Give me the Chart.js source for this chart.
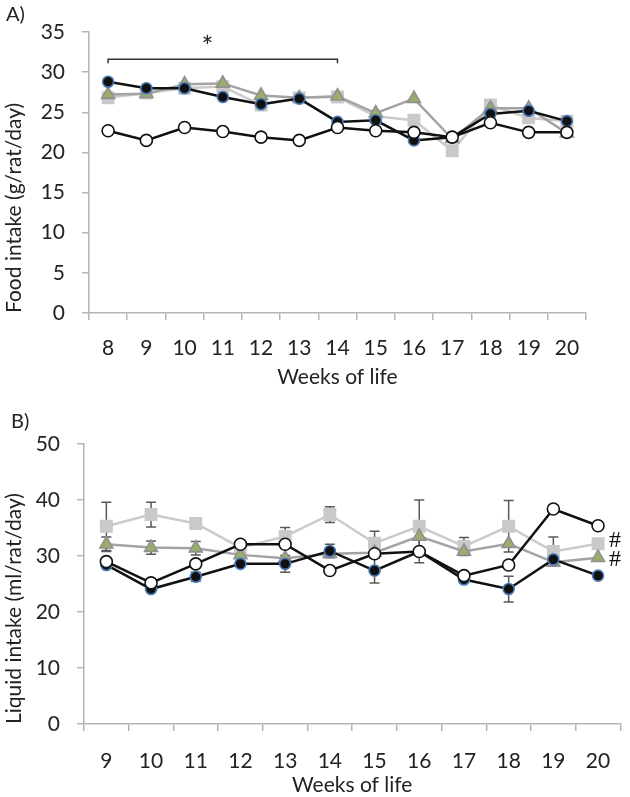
<!DOCTYPE html>
<html>
<head>
<meta charset="utf-8">
<script src="https://cdn.jsdelivr.net/npm/chart.js@4.4.1/dist/chart.umd.min.js"></script>
<style>
  body { margin: 0; background: #fff; }
  #wrap { position: relative; width: 630px; height: 797px; overflow: hidden; font-family: Lato, sans-serif; }
  canvas { position: absolute; left: 0; }
  .panel { position: absolute; font-size: 20px; line-height: 22px; color: #222; }
</style>
</head>
<body>
<div id="wrap">
  <canvas id="chart-a" width="630" height="400" style="top:0"></canvas>
  <canvas id="chart-b" width="630" height="398" style="top:400px"></canvas>
  <div class="panel" style="left:6px; top:2px">A)</div>
  <div class="panel" style="left:11px; top:409px">B)</div>
</div>
<script>
// panel A - food intake
const weeksA = ['8', '9', '10', '11', '12', '13', '14', '15', '16', '17', '18', '19', '20'];
const whiteA  = [22.7, 21.5, 23.1, 22.6, 21.9, 21.5, 23.1, 22.7, 22.5, 21.9, 23.7, 22.5, 22.5];
const blackA  = [28.8, 28.0, 28.0, 26.9, 26.0, 26.7, 23.8, 24.0, 21.5, 21.9, 24.8, 25.2, 23.9];
const triA    = [27.2, 27.3, 28.5, 28.6, 27.1, 26.8, 27.0, 24.9, 26.7, 21.7, 25.5, 25.5, 22.4];
const squareA = [26.8, 27.4, 28.0, 28.2, 25.9, 26.8, 26.9, 24.5, 24.0, 20.2, 25.9, 24.3, 23.9];

// significance bracket over weeks 8-14
const bracketFrom = 0;
const bracketTo = 6;
const bracketValue = 31.6;
const bracketTip = 0.5;
const starIndex = 2.6;
const starValue = 33.0;

// panel B - liquid intake
const weeksB = ['9', '10', '11', '12', '13', '14', '15', '16', '17', '18', '19', '20'];
const whiteB     = [29.0, 25.2, 28.6, 32.1, 32.1, 27.4, 30.4, 30.8, 26.5, 28.4, 38.4, 35.4];
const blackB     = [28.4, 24.1, 26.3, 28.6, 28.6, 30.9, 27.4, 30.8, 25.8, 24.1, 29.4, 26.5];
const blackErrB  = [0.5, 0.5, 0.8, 0.5, 1.5, 1.2, 2.2, 2.0, 0.5, 2.3, 0.5, 0.5];
const triB       = [32.1, 31.5, 31.4, 30.2, 29.6, 30.4, 30.6, 33.5, 30.8, 32.2, 28.9, 29.7];
const triErrB    = [1.3, 1.2, 1.2, 0, 0, 0, 0, 0, 0, 0, 0, 0];
const squareB    = [35.3, 37.4, 35.8, 31.5, 33.5, 37.4, 32.3, 35.3, 31.7, 35.3, 30.8, 32.2];
const squareErrB = [4.3, 2.2, 0.5, 0.5, 1.6, 1.4, 2.1, 4.7, 1.6, 4.6, 2.6, 0.5];
const hashValues = [32.7, 29.4];

const FONT = 'Lato, sans-serif';
const TEXT = '#222';
const AXIS_GREY = '#b5b5b5';

function seriesSet(white, black, tri, square)
{
    const base = { fill: false, tension: 0, borderWidth: 2.5, pointBorderWidth: 1.6 };
    return [
        Object.assign({}, base, {
            label: 'white', data: white, order: 0,
            borderColor: '#111', pointStyle: 'circle', pointRadius: 6,
            pointBackgroundColor: '#fff', pointBorderColor: '#111'
        }),
        Object.assign({}, base, {
            label: 'black', data: black, order: 1,
            borderColor: '#111', pointStyle: 'circle', pointRadius: 5.5,
            pointBackgroundColor: '#111', pointBorderColor: '#4a7ab8'
        }),
        Object.assign({}, base, {
            label: 'triangle', data: tri, order: 2,
            borderColor: '#a3a3a3', pointStyle: 'triangle', pointRadius: 7.5,
            pointBackgroundColor: '#9aae6b', pointBorderColor: '#909090'
        }),
        Object.assign({}, base, {
            label: 'square', data: square, order: 3,
            borderColor: '#cbcbcb', pointStyle: 'rect', pointRadius: 8,
            pointBackgroundColor: '#c9c9c9', pointBorderColor: '#c9c9c9'
        })
    ];
}

function makeScales(cfg)
{
    const grid = {
        drawOnChartArea: false, drawTicks: true, tickLength: 7,
        color: AXIS_GREY, lineWidth: 1.5
    };
    return {
        x: {
            type: 'category', offset: true,
            grid: Object.assign({ offset: true }, grid),
            border: { color: AXIS_GREY, width: 1.5 },
            ticks: {
                color: TEXT, font: { family: FONT, size: cfg.fontSize },
                padding: cfg.xPad, maxRotation: 0, autoSkip: false
            },
            title: {
                display: true, text: 'Weeks of life', color: TEXT,
                font: { family: FONT, size: cfg.fontSize },
                padding: { top: 0, bottom: cfg.xTitlePad }
            },
            afterFit: (s) => { s.height = cfg.xHeight; }
        },
        y: {
            min: 0, max: cfg.max,
            grid: grid,
            border: { color: AXIS_GREY, width: 1.5 },
            ticks: {
                stepSize: cfg.step, color: TEXT,
                font: { family: FONT, size: cfg.fontSize }, padding: cfg.yPad
            },
            title: {
                display: true, text: cfg.yTitle, color: TEXT, align: 'start',
                font: { family: FONT, size: cfg.fontSize },
                padding: { top: 2, bottom: 0 }
            },
            afterFit: (s) => { s.width = cfg.yWidth; }
        }
    };
}

const bracketPlugin = {
    id: 'bracket',
    afterDatasetsDraw(chart)
    {
        const { ctx, scales: { x, y } } = chart;
        const x0 = x.getPixelForValue(bracketFrom);
        const x1 = x.getPixelForValue(bracketTo);
        const yb = y.getPixelForValue(bracketValue);
        const yt = y.getPixelForValue(bracketValue - bracketTip);
        ctx.save();
        ctx.strokeStyle = '#333';
        ctx.lineWidth = 1.5;
        ctx.beginPath();
        ctx.moveTo(x0, yt);
        ctx.lineTo(x0, yb);
        ctx.lineTo(x1, yb);
        ctx.lineTo(x1, yt);
        ctx.stroke();
        ctx.fillStyle = '#222';
        ctx.font = '28px ' + FONT;
        ctx.textAlign = 'center';
        ctx.textBaseline = 'middle';
        ctx.fillText('*', x.getPixelForValue(starIndex), y.getPixelForValue(starValue));
        ctx.restore();
    }
};

const errorBarPlugin = {
    id: 'errorBars',
    beforeDatasetsDraw(chart)
    {
        const { ctx, scales: { x, y } } = chart;
        const sets = [[squareB, squareErrB], [triB, triErrB], [blackB, blackErrB]];
        ctx.save();
        ctx.strokeStyle = '#595959';
        ctx.lineWidth = 1.5;
        sets.forEach(([vals, errs]) => {
            vals.forEach((v, i) => {
                if (!errs[i]) return;
                const px = x.getPixelForValue(i);
                const top = y.getPixelForValue(v + errs[i]);
                const bot = y.getPixelForValue(v - errs[i]);
                ctx.beginPath();
                ctx.moveTo(px, top);
                ctx.lineTo(px, bot);
                ctx.moveTo(px - 5, top);
                ctx.lineTo(px + 5, top);
                ctx.moveTo(px - 5, bot);
                ctx.lineTo(px + 5, bot);
                ctx.stroke();
            });
        });
        ctx.restore();
    },
    afterDatasetsDraw(chart)
    {
        const { ctx, scales: { x, y } } = chart;
        const px = x.getPixelForValue(weeksB.length - 1) + 11;
        ctx.save();
        ctx.fillStyle = '#111';
        ctx.font = '24px "Liberation Serif", serif';
        ctx.textAlign = 'left';
        ctx.textBaseline = 'middle';
        hashValues.forEach((v) => ctx.fillText('#', px, y.getPixelForValue(v)));
        ctx.restore();
    }
};

const common = {
    responsive: false,
    animation: false,
    plugins: { legend: { display: false }, tooltip: { enabled: false } }
};

new Chart(document.getElementById('chart-a'), {
    type: 'line',
    data: { labels: weeksA, datasets: seriesSet(whiteA, blackA, triA, squareA) },
    options: Object.assign({}, common, {
        layout: { padding: { left: 0, right: 44, top: 32, bottom: 0 } },
        scales: makeScales({
            max: 35, step: 5, fontSize: 21, yTitle: 'Food intake (g/rat/day)',
            yWidth: 89, yPad: 17, xHeight: 87, xPad: 16, xTitlePad: 10
        })
    }),
    plugins: [bracketPlugin]
});

new Chart(document.getElementById('chart-b'), {
    type: 'line',
    data: { labels: weeksB, datasets: seriesSet(whiteB, blackB, triB, squareB) },
    options: Object.assign({}, common, {
        layout: { padding: { left: 0, right: 3, top: 44, bottom: 0 } },
        scales: makeScales({
            max: 50, step: 10, fontSize: 21, yTitle: 'Liquid intake (ml/rat/day)',
            yWidth: 84, yPad: 17, xHeight: 74, xPad: 18, xTitlePad: 0
        })
    }),
    plugins: [errorBarPlugin]
});
</script>
</body>
</html>
